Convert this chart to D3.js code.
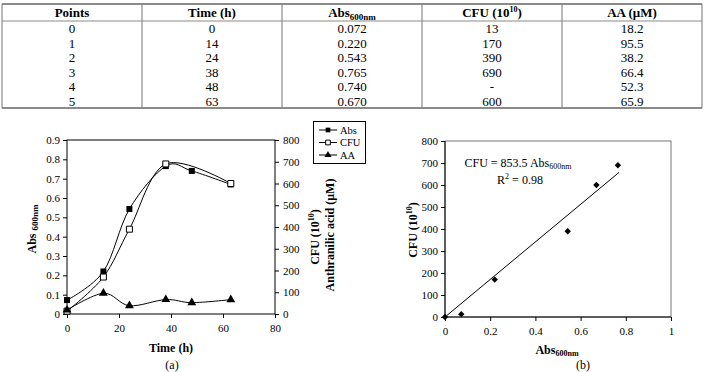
<!DOCTYPE html>
<html>
<head>
<meta charset="utf-8">
<script src="https://cdn.jsdelivr.net/npm/d3@7"></script>
<style>
  body { margin: 0; background: #fff; }
  svg, svg text { font-family: "Liberation Serif", "Times New Roman", serif; }
  .tick text { font-size: 11px; fill: #000; font-family: "Liberation Serif", serif; }
  .tick line, .domain { stroke: #000; }
  .ttl { font-weight: bold; font-size: 12px; }
</style>
</head>
<body>
<div id="chart"></div>
<script>
'use strict';

// Table data
const points = [0, 1, 2, 3, 4, 5];
const times = [0, 14, 24, 38, 48, 63];
const absValues = [0.072, 0.220, 0.543, 0.765, 0.740, 0.670];
const cfuValues = [13, 170, 390, 690, null, 600];
const aaValues = [18.2, 95.5, 38.2, 66.4, 52.3, 65.9];
const absLabels = ['0.072', '0.220', '0.543', '0.765', '0.740', '0.670'];

// Axis ticks
const timeTicks = [0, 20, 40, 60, 80];
const absTicks = [0, 0.1, 0.2, 0.3, 0.4, 0.5, 0.6, 0.7, 0.8, 0.9];
const cfuTicks = [0, 100, 200, 300, 400, 500, 600, 700, 800];
const absTicksB = [0, 0.2, 0.4, 0.6, 0.8, 1];

// Calibration fit
const slope = 853.5;
const fitRange = [0, 0.77];

const W = 704, H = 372;
const svg = d3.select('#chart').append('svg')
    .attr('width', W).attr('height', H);

// ---------- Table ----------
const tableX = d3.scaleBand().domain(d3.range(5)).range([2, 702]);
const rowY = d3.scalePoint().domain(points).range([28.5, 101.5]);
const border = '#8a8a8a';

const tbl = svg.append('g');
tbl.append('line').attr('x1', 2).attr('x2', 702).attr('y1', 4).attr('y2', 4)
    .attr('stroke', border).attr('stroke-width', 2);
tbl.append('line').attr('x1', 2).attr('x2', 702).attr('y1', 21).attr('y2', 21)
    .attr('stroke', border).attr('stroke-width', 1);
tbl.append('line').attr('x1', 2).attr('x2', 702).attr('y1', 108).attr('y2', 108)
    .attr('stroke', border).attr('stroke-width', 2);
[2, 702].concat(d3.range(1, 5).map(i => tableX(i))).forEach(x => {
    tbl.append('line').attr('x1', x).attr('x2', x).attr('y1', 4).attr('y2', 108)
        .attr('stroke', border).attr('stroke-width', 1.2);
});

const colX = i => tableX(i) + tableX.bandwidth() / 2;
const head = tbl.append('g').attr('font-weight', 'bold').attr('font-size', 13)
    .attr('text-anchor', 'middle');
head.append('text').attr('x', colX(0)).attr('y', 17).text('Points');
head.append('text').attr('x', colX(1)).attr('y', 17).text('Time (h)');
let t = head.append('text').attr('x', colX(2)).attr('y', 17);
t.append('tspan').text('Abs');
t.append('tspan').attr('font-size', 9).attr('dy', 3).text('600nm');
t = head.append('text').attr('x', colX(3)).attr('y', 17);
t.append('tspan').text('CFU (10');
t.append('tspan').attr('font-size', 8).attr('dy', -5).text('10');
t.append('tspan').attr('dy', 5).text(')');
head.append('text').attr('x', colX(4)).attr('y', 17).text('AA (\u03bcM)');

const body = tbl.append('g').attr('font-size', 13).attr('text-anchor', 'middle');
points.forEach((p, i) => {
    const cells = [p, times[i], absLabels[i], cfuValues[i] === null ? '-' : cfuValues[i], aaValues[i].toFixed(1)];
    cells.forEach((c, j) => {
        body.append('text').attr('x', colX(j)).attr('y', rowY(p) + 4.5).text(c);
    });
});

// ---------- Chart (a) ----------
const xA = d3.scaleLinear().domain([0, 80]).range([67, 275]);
const yA = d3.scaleLinear().domain([0, 0.9]).range([314, 140]);
const yA2 = d3.scaleLinear().domain([0, 800]).range([314, 140]);

const ga = svg.append('g');
ga.append('rect').attr('x', 67).attr('y', 140).attr('width', 208).attr('height', 174)
    .attr('fill', 'none').attr('stroke', '#000');

ga.append('g').attr('transform', 'translate(0,314)')
    .call(d3.axisBottom(xA).tickValues(timeTicks).tickSize(4).tickPadding(6))
    .call(g => g.select('.domain').remove());
ga.append('g').attr('transform', 'translate(67,0)')
    .call(d3.axisLeft(yA).tickValues(absTicks).tickSize(4).tickPadding(3)
        .tickFormat(d => d === 0 ? '0' : d3.format('.1f')(d)))
    .call(g => g.select('.domain').remove());
ga.append('g').attr('transform', 'translate(275,0)')
    .call(d3.axisRight(yA2).tickValues(cfuTicks).tickSize(4).tickPadding(4))
    .call(g => g.select('.domain').remove());

const curve = d3.curveCatmullRom.alpha(0);
const absData = times.map((x, i) => ({ x, y: absValues[i] }));
const cfuData = times.map((x, i) => ({ x, y: cfuValues[i] })).filter(d => d.y !== null);
const aaData = times.map((x, i) => ({ x, y: aaValues[i] }));

const lineLeft = d3.line().x(d => xA(d.x)).y(d => yA(d.y)).curve(curve);
const lineRight = d3.line().x(d => xA(d.x)).y(d => yA2(d.y)).curve(curve);

ga.append('path').attr('d', lineRight(cfuData)).attr('fill', 'none').attr('stroke', '#000').attr('stroke-width', 1);
ga.append('path').attr('d', lineLeft(absData)).attr('fill', 'none').attr('stroke', '#000').attr('stroke-width', 1);
ga.append('path').attr('d', lineRight(aaData)).attr('fill', 'none').attr('stroke', '#000').attr('stroke-width', 1);

const sq = d3.symbol().type(d3.symbolSquare).size(36);
const tri = d3.symbol().type(d3.symbolTriangle).size(34);

ga.selectAll('path.abs').data(absData).join('path').classed('abs', true)
    .attr('d', sq).attr('transform', d => `translate(${xA(d.x)},${yA(d.y)})`).attr('fill', '#000');
ga.selectAll('path.cfu').data(cfuData).join('path').classed('cfu', true)
    .attr('d', sq).attr('transform', d => `translate(${xA(d.x)},${yA2(d.y)})`)
    .attr('fill', '#fff').attr('stroke', '#000').attr('stroke-width', 1);
ga.selectAll('path.aa').data(aaData).join('path').classed('aa', true)
    .attr('d', tri).attr('transform', d => `translate(${xA(d.x)},${yA2(d.y)})`).attr('fill', '#000');

// axis titles (a)
ga.append('text').attr('class', 'ttl').attr('text-anchor', 'middle')
    .attr('x', 171).attr('y', 352).text('Time (h)');
t = ga.append('text').attr('class', 'ttl').attr('text-anchor', 'middle')
    .attr('transform', 'translate(36,229) rotate(-90)');
t.append('tspan').text('Abs ');
t.append('tspan').attr('font-size', 9).attr('dy', 2).text('600nm');

t = ga.append('text').attr('class', 'ttl').attr('text-anchor', 'middle')
    .attr('transform', 'translate(319,237) rotate(-90)');
t.append('tspan').text('CFU (10');
t.append('tspan').attr('font-size', 8).attr('dy', -5).text('10');
t.append('tspan').attr('dy', 5).text(')');
ga.append('text').attr('class', 'ttl').attr('text-anchor', 'middle')
    .attr('transform', 'translate(334,235) rotate(-90)').text('Anthranilic acid (\u03bcM)');

ga.append('text').attr('font-size', 12).attr('text-anchor', 'middle')
    .attr('x', 172).attr('y', 369).text('(a)');

// legend
const leg = ga.append('g');
leg.append('rect').attr('x', 313.5).attr('y', 121.5).attr('width', 52).attr('height', 42)
    .attr('fill', '#fff').attr('stroke', '#000');
const legItems = [
    { label: 'Abs', sym: sq, fill: '#000' },
    { label: 'CFU', sym: sq, fill: '#fff' },
    { label: 'AA', sym: tri, fill: '#000' }
];
const legY = d3.scalePoint().domain(legItems.map(d => d.label)).range([130, 155]);
legItems.forEach(d => {
    const y = legY(d.label);
    leg.append('line').attr('x1', 319).attr('x2', 337).attr('y1', y).attr('y2', y).attr('stroke', '#000');
    leg.append('path').attr('d', d.sym.size(22)()).attr('transform', `translate(328,${y})`)
        .attr('fill', d.fill).attr('stroke', d.fill === '#fff' ? '#000' : 'none');
    leg.append('text').attr('x', 340).attr('y', y + 3.5).attr('font-size', 10.5).text(d.label);
});

// ---------- Chart (b) ----------
const xB = d3.scaleLinear().domain([0, 1]).range([445, 671]);
const yB = d3.scaleLinear().domain([0, 800]).range([317, 141]);

const gb = svg.append('g');
gb.append('rect').attr('x', 445).attr('y', 141).attr('width', 226).attr('height', 176)
    .attr('fill', 'none').attr('stroke', '#777');
gb.append('line').attr('x1', 445).attr('x2', 445).attr('y1', 141).attr('y2', 317).attr('stroke', '#000');
gb.append('line').attr('x1', 445).attr('x2', 671).attr('y1', 317).attr('y2', 317).attr('stroke', '#000');

gb.append('g').attr('transform', 'translate(0,317)')
    .call(d3.axisBottom(xB).tickValues(absTicksB).tickSize(4).tickPadding(6).tickFormat(d3.format('')))
    .call(g => g.select('.domain').remove());
gb.append('g').attr('transform', 'translate(445,0)')
    .call(d3.axisLeft(yB).tickValues(cfuTicks).tickSize(4).tickPadding(3))
    .call(g => g.select('.domain').remove());

gb.append('line')
    .attr('x1', xB(fitRange[0])).attr('y1', yB(slope * fitRange[0]))
    .attr('x2', xB(fitRange[1])).attr('y2', yB(slope * fitRange[1]))
    .attr('stroke', '#000').attr('stroke-width', 1);

const scatter = [{ x: 0, y: 0 }].concat(absValues.map((x, i) => ({ x, y: cfuValues[i] }))
    .filter(d => d.y !== null));
gb.selectAll('path.pt').data(scatter).join('path').classed('pt', true)
    .attr('d', d3.symbol().type(d3.symbolDiamond2).size(26))
    .attr('transform', d => `translate(${xB(d.x)},${yB(d.y)})`).attr('fill', '#000');

t = gb.append('text').attr('font-size', 12).attr('text-anchor', 'middle').attr('x', 518).attr('y', 167);
t.append('tspan').text('CFU = 853.5 Abs');
t.append('tspan').attr('font-size', 8).attr('dy', 2).text('600nm');
t = gb.append('text').attr('font-size', 12).attr('text-anchor', 'middle').attr('x', 520).attr('y', 184);
t.append('tspan').text('R');
t.append('tspan').attr('font-size', 8).attr('dy', -5).text('2');
t.append('tspan').attr('dy', 5).text(' = 0.98');

t = gb.append('text').attr('class', 'ttl').attr('text-anchor', 'middle')
    .attr('transform', 'translate(417,230) rotate(-90)');
t.append('tspan').text('CFU (10');
t.append('tspan').attr('font-size', 8).attr('dy', -5).text('10');
t.append('tspan').attr('dy', 5).text(')');

t = gb.append('text').attr('class', 'ttl').attr('text-anchor', 'middle').attr('x', 557).attr('y', 354);
t.append('tspan').text('Abs');
t.append('tspan').attr('font-size', 8).attr('dy', 2).text('600nm');

gb.append('text').attr('font-size', 12).attr('text-anchor', 'middle')
    .attr('x', 583).attr('y', 369).text('(b)');
</script>
</body>
</html>
